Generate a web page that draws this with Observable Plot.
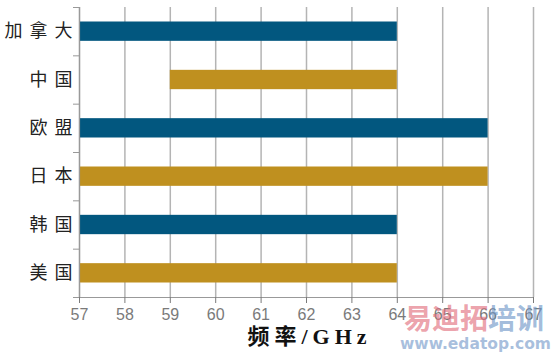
<!DOCTYPE html>
<html><head><meta charset="utf-8">
<script src="https://cdn.jsdelivr.net/npm/d3@7"></script>
<script src="https://cdn.jsdelivr.net/npm/@observablehq/plot@0.6"></script>
<style>
body{margin:0;background:#fff}
#wrap{position:relative;width:552px;height:357px}
#wrap svg g[aria-label="y-axis tick label"] text{letter-spacing:7px}
#wrap svg g[aria-label="text"] text{letter-spacing:5px}
#wm1{position:absolute;left:404px;top:301px;font:bold 28px "Noto Sans CJK SC",sans-serif;line-height:32px;white-space:nowrap}
#wm2{position:absolute;left:400px;top:335px;font:bold 15.5px "DejaVu Sans",sans-serif;color:rgba(140,170,210,0.75);white-space:nowrap}
</style>
</head><body><div id="wrap"></div>
<script>
const categories = ["加拿大","中国","欧盟","日本","韩国","美国"];
const startGHz = [57,59,57,57,57,57];
const endGHz = [64,64,66,66,64,64];
const barColors = ["#02577f","#bf901f","#02577f","#bf901f","#02577f","#bf901f"];
const xTicks = [57,58,59,60,61,62,63,64,65,66,67];
const xLabel = "频率/GHz";

const n = categories.length;
const rows = categories.map((c,i)=>({cat:c,start:startGHz[i],end:endGHz[i],color:barColors[i],pos:n-1-i+0.5}));
const half = 0.2;

const chart = Plot.plot({
  width:552, height:357,
  marginLeft:79, marginRight:19, marginTop:7, marginBottom:60,
  style:{fontFamily:"'Liberation Sans', Arial, sans-serif", background:"#fff"},
  x:{domain:[57,67]},
  y:{domain:[0,n]},
  marks:[
    Plot.ruleX(xTicks,{stroke:"#b4b4b4",strokeWidth:1.5}),
    Plot.rect(rows,{x1:"start",x2:"end",y1:d=>d.pos-half,y2:d=>d.pos+half,fill:"color"}),
    Plot.ruleX([57],{stroke:"#999",strokeWidth:1.2}),
    Plot.ruleY([0],{stroke:"#999",strokeWidth:1.2}),
    Plot.axisY(d3.range(n+1),{tickSize:6,tickFormat:()=>"",stroke:"#999",label:null}),
    Plot.axisY(rows.map(d=>d.pos),{tickSize:0,tickPadding:0,tickFormat:t=>categories[n-1-(t-0.5)],fontSize:18,fill:"#222",fontFamily:"'Noto Sans CJK SC', sans-serif",label:null}),
    Plot.axisX(xTicks,{tickSize:6,tickPadding:5,fontSize:16,color:"#7a7a7a",label:null}),
    Plot.text([xLabel],{frameAnchor:"bottom",dy:46,dx:3,fontSize:22,fontWeight:"bold",fill:"#111",fontFamily:"'Liberation Serif','Noto Sans CJK SC',serif"})
  ]
});
const wrap = document.getElementById("wrap");
wrap.appendChild(chart);
const w1 = document.createElement("div");
w1.id="wm1";
w1.innerHTML='<span style="color:rgba(226,110,125,0.65)">易迪拓</span><span style="color:rgba(110,150,200,0.65)">培训</span>';
wrap.appendChild(w1);
const w2 = document.createElement("div");
w2.id="wm2"; w2.textContent="www.edatop.com";
wrap.appendChild(w2);
</script>
</body></html>
